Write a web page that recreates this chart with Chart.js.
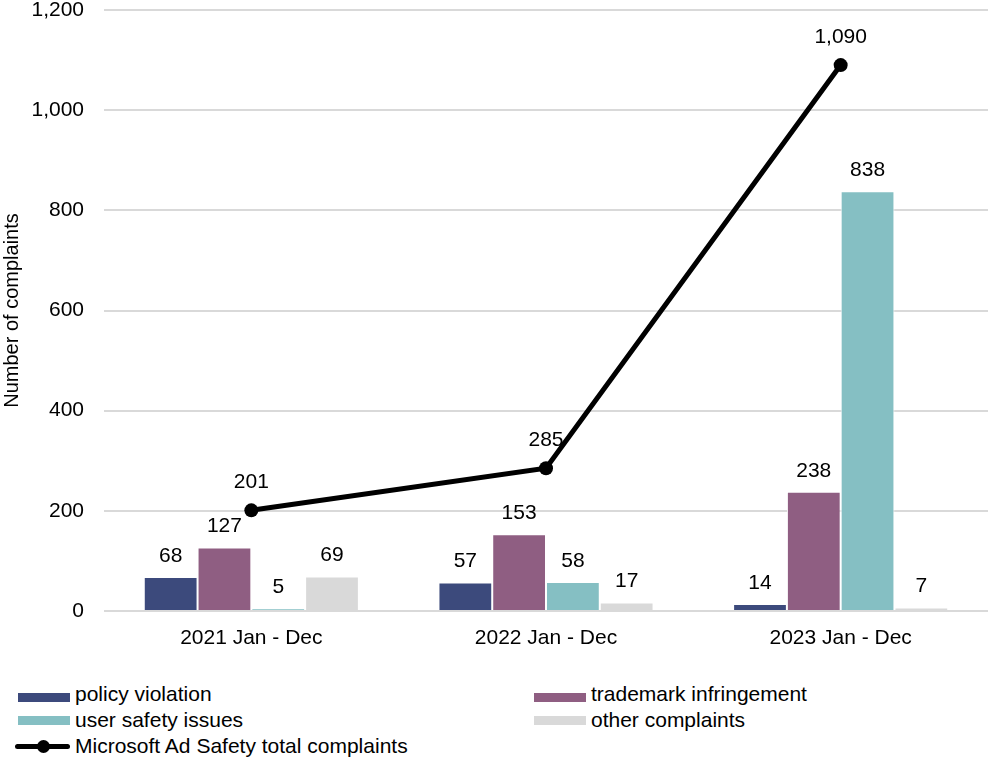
<!DOCTYPE html>
<html>
<head>
<meta charset="utf-8">
<script src="https://cdn.jsdelivr.net/npm/chart.js@4/dist/chart.umd.min.js"></script>
<style>
  body { margin: 0; background: #fff; font-family: "Liberation Sans", Arial, sans-serif; }
  #wrap { position: relative; width: 988px; height: 762px; }
  #chartBox { position: absolute; left: 0; top: 0; width: 988px; height: 670px; }
  .leg { position: absolute; font-size: 21px; color: #000; line-height: 24px; white-space: nowrap; }
  .sw { position: absolute; width: 52px; height: 9px; }
  .lineSw { position: absolute; width: 55px; height: 5px; background: #000; border-radius: 3px; }
  .dot { position: absolute; width: 13px; height: 13px; border-radius: 50%; background: #000; }
</style>
</head>
<body>
<div id="wrap">
  <div id="chartBox"><canvas id="complaintsChart"></canvas></div>

  <div class="sw" style="left:18px;top:693px;background:#3c4a7c"></div>
  <div class="leg" style="left:75px;top:682px">policy violation</div>
  <div class="sw" style="left:534px;top:693px;background:#8f5e82"></div>
  <div class="leg" style="left:591px;top:682px">trademark infringement</div>

  <div class="sw" style="left:18px;top:716px;background:#85bfc3"></div>
  <div class="leg" style="left:75px;top:708px">user safety issues</div>
  <div class="sw" style="left:534px;top:716px;background:#d9d9d9"></div>
  <div class="leg" style="left:591px;top:708px">other complaints</div>

  <div class="lineSw" style="left:15px;top:744px"></div>
  <div class="dot" style="left:37px;top:740px"></div>
  <div class="leg" style="left:75px;top:734px">Microsoft Ad Safety total complaints</div>
</div>

<script>
const periods = ['2021 Jan - Dec', '2022 Jan - Dec', '2023 Jan - Dec'];
const policyViolation = [68, 57, 14];
const trademarkInfringement = [127, 153, 238];
const userSafetyIssues = [5, 58, 838];
const otherComplaints = [69, 17, 7];
const totalComplaints = [201, 285, 1090];
const yTicks = [0, 200, 400, 600, 800, 1000, 1200];

const FONT = '"Liberation Sans", Arial, sans-serif';
const FONT_SIZE = 21;

// value labels above every bar and every line point
const valueLabels = {
    id: 'valueLabels',
    afterDatasetsDraw(chart) {
        const ctx = chart.ctx;
        ctx.save();
        ctx.font = FONT_SIZE + 'px ' + FONT;
        ctx.fillStyle = '#000';
        ctx.textAlign = 'center';
        ctx.textBaseline = 'alphabetic';
        chart.data.datasets.forEach((ds, i) => {
            const meta = chart.getDatasetMeta(i);
            meta.data.forEach((el, j) => {
                const gap = ds.type === 'line' ? 22 : 15;
                ctx.fillText(ds.data[j].toLocaleString('en-US'), el.x, el.y - gap);
            });
        });
        ctx.restore();
    }
};

const barSet = (label, data, color) => ({
    type: 'bar',
    label: label,
    data: data,
    backgroundColor: color,
    borderColor: '#ffffff',
    borderWidth: 1,
    categoryPercentage: 0.73,
    barPercentage: 1,
    order: 1
});

new Chart(document.getElementById('complaintsChart'), {
    data: {
        labels: periods,
        datasets: [
            {
                type: 'line',
                label: 'Microsoft Ad Safety total complaints',
                data: totalComplaints,
                borderColor: '#000',
                backgroundColor: '#000',
                borderWidth: 5,
                pointRadius: 7,
                pointBackgroundColor: '#000',
                pointBorderWidth: 0,
                tension: 0,
                order: 0
            },
            barSet('policy violation', policyViolation, '#3c4a7c'),
            barSet('trademark infringement', trademarkInfringement, '#8f5e82'),
            barSet('user safety issues', userSafetyIssues, '#85bfc3'),
            barSet('other complaints', otherComplaints, '#d9d9d9')
        ]
    },
    options: {
        responsive: true,
        maintainAspectRatio: false,
        animation: false,
        layout: { autoPadding: false, padding: { top: 10, right: 0, left: 0, bottom: 0 } },
        plugins: {
            legend: { display: false },
            tooltip: { enabled: false }
        },
        scales: {
            x: {
                grid: { display: false },
                border: { display: false },
                ticks: { color: '#000', padding: 7, font: { family: FONT, size: FONT_SIZE } },
                afterFit: scale => {
                    scale.height = 59;
                    scale.paddingLeft = 0;
                    scale.paddingRight = 0;
                }
            },
            y: {
                min: 0,
                max: 1200,
                afterBuildTicks: scale => { scale.ticks = yTicks.map(v => ({ value: v })); },
                grid: { color: '#d9d9d9', lineWidth: 2, drawTicks: false },
                border: { display: false },
                ticks: {
                    color: '#000',
                    padding: 20,
                    font: { family: FONT, size: FONT_SIZE },
                    callback: v => v.toLocaleString('en-US')
                },
                title: {
                    display: true,
                    text: 'Number of complaints',
                    color: '#000',
                    font: { family: FONT, size: 20 },
                    padding: 0
                },
                afterFit: scale => {
                    scale.width = 104;
                    scale.paddingTop = 0;
                    scale.paddingBottom = 0;
                }
            }
        }
    },
    plugins: [valueLabels]
});
</script>
</body>
</html>
